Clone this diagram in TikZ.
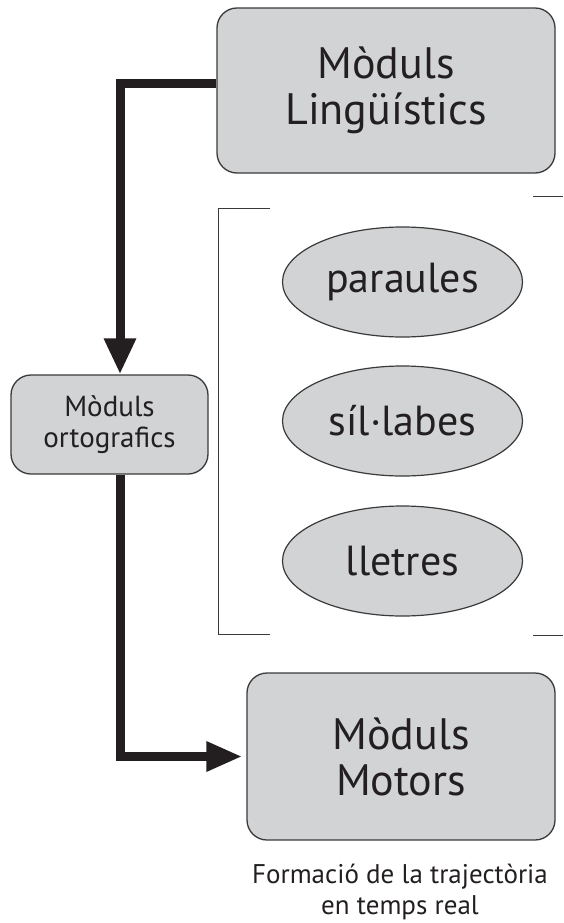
\documentclass[tikz,border=0pt]{standalone}
\usepackage{fontspec}
\setmainfont{PT Sans}
\usetikzlibrary{arrows.meta,shapes.geometric}
\definecolor{boxfill}{HTML}{D1D3D4}
\definecolor{boxline}{HTML}{3A3A3A}
\definecolor{ink}{HTML}{231F20}
\tikzset{
  bigbox/.style={draw=boxline, line width=1.3pt, fill=boxfill, rounded corners=20pt,
    inner sep=0pt, align=center, text=ink, font=\fontsize{44}{46}\selectfont},
  smallbox/.style={draw=boxline, line width=1.3pt, fill=boxfill, rounded corners=20pt,
    inner sep=0pt, align=center, text=ink, font=\fontsize{29}{31}\selectfont},
  level/.style={ellipse, draw=boxline, line width=1.2pt, fill=boxfill,
    minimum width=240pt, minimum height=110pt, inner sep=0pt, text=ink,
    font=\fontsize{42}{44}\selectfont},
  flow/.style={draw=ink, line width=9pt, line join=miter},
  bracketline/.style={draw=boxline, line width=1pt},
  caption/.style={align=center, inner sep=0pt, text=ink, font=\fontsize{27}{31}\selectfont}
}
\begin{document}
\begin{tikzpicture}[x=1pt,y=-1pt]
  \useasboundingbox (0,0) rectangle (563,923);

  % main modules
  \node[bigbox, minimum width=338pt, minimum height=165pt] (ling) at (386,90.5) {Mòduls\\Lingüístics};
  \node[smallbox, minimum width=197pt, minimum height=99pt] (orto) at (109.5,424.5) {Mòduls\\ortografics};
  \node[bigbox, minimum width=308pt, minimum height=167pt] (motor) at (401,756.5) {Mòduls\\Motors};

  % linguistic levels
  \node[level] (par) at (402.5,282) {paraules};
  \node[level] (sil) at (402.5,421) {síl·labes};
  \node[level] (let) at (402.5,561) {lletres};

  % bracket grouping the levels
  \draw[bracketline] (270,208) -- (218,208) -- (218,634) -- (270,634);
  \draw[bracketline] (533,196) -- (563,196);
  \draw[bracketline] (533,635) -- (563,635);

  % flow of control
  \draw[flow, -{Triangle[length=36pt,width=30pt]}]
    ([yshift=6.5pt]ling.west) -| ([xshift=10.5pt]orto.north);
  \draw[flow, -{Triangle[length=36pt,width=28pt]}, shorten >=4pt]
    ([xshift=10.5pt]orto.south) |- (motor.west);

  \node[caption, anchor=north] (cap) at (400,864) {Formació de la trajectòria\\en temps real};
\end{tikzpicture}
\end{document}
